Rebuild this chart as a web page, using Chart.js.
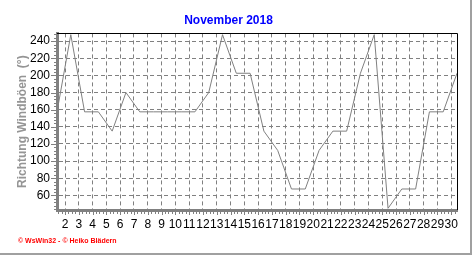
<!DOCTYPE html>
<html>
<head>
<meta charset="utf-8">
<script src="https://cdn.jsdelivr.net/npm/chart.js@4.4.0/dist/chart.umd.min.js"></script>
<style>
  html, body { margin: 0; padding: 0; background: #fff; }
  canvas { display: block; }
</style>
</head>
<body>
<canvas id="chart" width="472" height="255"></canvas>
<script>
const chartTitle = 'November 2018';
const yTitle = 'Richtung Windböen  (°)';
const footerText = '© WsWin32 - © Heiko Blädern';

const days = [1, 2, 3, 4, 5, 6, 7, 8, 9, 10, 11, 12, 13, 14, 15,
              16, 17, 18, 19, 20, 21, 22, 23, 24, 25, 26, 27, 28, 29, 30];
const direction = [157.5, 247.5, 157.5, 157.5, 135, 180, 157.5, 157.5, 157.5, 157.5,
                   157.5, 180, 247.5, 202.5, 202.5, 135, 112.5, 67.5, 67.5, 112.5,
                   135, 135, 202.5, 247.5, 45, 67.5, 67.5, 157.5, 157.5, 202.5];
const dayLabels = [2, 3, 4, 5, 6, 7, 8, 9, 10, 11, 12, 13, 14, 15, 16,
                   17, 18, 19, 20, 21, 22, 23, 24, 25, 26, 27, 28, 29, 30];
const yTicks = [60, 80, 100, 120, 140, 160, 180, 200, 220, 240];

// midnight gridlines sit a bit before the daily value
const dayShift = 0.42;
const FONT = 'Arial, "Liberation Sans", sans-serif';

const decor = {
  id: 'decor',
  afterDraw(chart) {
    const { ctx, chartArea: a, scales: { x, y } } = chart;
    ctx.save();
    // top and right frame of plot
    ctx.strokeStyle = '#000';
    ctx.lineWidth = 1;
    ctx.beginPath();
    ctx.moveTo(a.left, Math.round(a.top) + 0.5);
    ctx.lineTo(Math.round(a.right) + 0.5, Math.round(a.top) + 0.5);
    ctx.lineTo(Math.round(a.right) + 0.5, a.bottom);
    ctx.stroke();

    // tick marks
    ctx.strokeStyle = '#808080';
    ctx.beginPath();
    for (let v = 44; v <= 248; v += 4) {
      const py = Math.round(y.getPixelForValue(v)) + 0.5;
      const len = v % 20 === 0 ? 5 : 2;
      ctx.moveTo(a.left - 1 - len, py);
      ctx.lineTo(a.left - 1, py);
    }
    for (let k = 1; k <= 31; k++) {
      for (let j = 0; j < 4; j++) {
        const v = k - dayShift + j * 0.25;
        if (v < x.min || v > x.max) continue;
        const px = Math.round(x.getPixelForValue(v)) + 0.5;
        const len = j === 0 ? 4 : 3;
        ctx.moveTo(px, a.bottom + 1);
        ctx.lineTo(px, a.bottom + 1 + len);
      }
    }
    ctx.stroke();

    // footer
    ctx.fillStyle = '#ff0000';
    ctx.font = 'bold 7px ' + FONT;
    ctx.textBaseline = 'alphabetic';
    ctx.fillText(footerText, 18, 243);

    // outer shadow frame
    ctx.fillStyle = '#a0a0a0';
    ctx.fillRect(470, 0, 2, 255);
    ctx.fillRect(0, 253, 472, 2);
    ctx.restore();
  }
};

new Chart(document.getElementById('chart'), {
  type: 'line',
  data: {
    datasets: [{
      data: days.map((d, i) => ({ x: d, y: direction[i] })),
      borderColor: '#808080',
      borderWidth: 1,
      pointRadius: 0,
      tension: 0,
      fill: false
    }]
  },
  options: {
    responsive: false,
    animation: false,
    devicePixelRatio: 1,
    layout: { padding: { left: 0, right: 15, top: 0, bottom: 0 } },
    plugins: {
      legend: { display: false },
      tooltip: { enabled: false },
      title: {
        display: true,
        text: chartTitle,
        color: '#0000ff',
        font: { family: FONT, size: 12, weight: 'bold' },
        padding: { top: 13, bottom: 6 }
      }
    },
    scales: {
      x: {
        type: 'linear',
        min: days[0],
        max: days[days.length - 1],
        afterBuildTicks: s => { s.ticks = dayLabels.map(d => ({ value: d - dayShift })); },
        afterFit: s => { s.height = 45; },
        ticks: {
          autoSkip: false,
          maxRotation: 0,
          padding: 7,
          color: '#000',
          font: { family: FONT, size: 12 },
          callback: v => String(Math.round(v + dayShift))
        },
        grid: { color: '#808080', lineWidth: 1, drawTicks: false },
        border: { color: '#808080', width: 3, dash: [4, 3] }
      },
      y: {
        min: 43,
        max: 249,
        afterBuildTicks: s => { s.ticks = yTicks.map(v => ({ value: v })); },
        afterFit: s => { s.width = 57; },
        ticks: {
          padding: 7,
          color: '#000',
          font: { family: FONT, size: 12 }
        },
        grid: { color: '#808080', lineWidth: 1, drawTicks: false },
        border: { color: '#808080', width: 3, dash: [4, 3] },
        title: {
          display: true,
          text: yTitle,
          color: '#959595',
          font: { family: FONT, size: 12, weight: 'bold' },
          padding: { top: 15, bottom: 0 }
        }
      }
    }
  },
  plugins: [decor]
});
</script>
</body>
</html>
